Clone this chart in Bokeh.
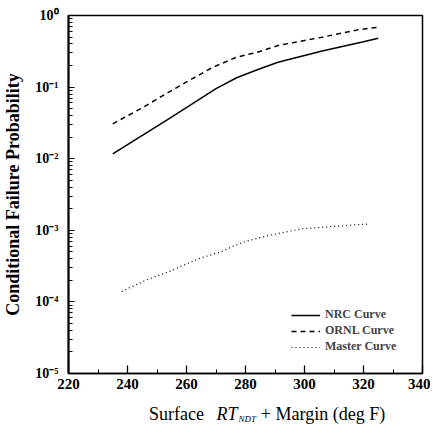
from bokeh.plotting import figure
from bokeh.models import FixedTicker
from bokeh.layouts import column
from bokeh.core.properties import value
from bokeh.embed import file_html
from bokeh.resources import INLINE

# ---- data ----
nrc_x = [235, 254, 270, 277, 284, 291, 306, 320, 325]
nrc_y = [0.0117, 0.036, 0.095, 0.135, 0.175, 0.222, 0.32, 0.43, 0.48]

ornl_x = [235, 245, 254, 262, 269, 277, 284, 291, 306, 318, 325]
ornl_y = [0.0307, 0.0514, 0.085, 0.131, 0.19, 0.262, 0.307, 0.381, 0.498, 0.63, 0.687]

master_x = [238, 246, 255, 264, 271, 279, 288, 299, 311, 322]
master_y = [1.40e-4, 1.99e-4, 2.74e-4, 4.0e-4, 4.9e-4, 6.8e-4, 8.5e-4, 1.05e-3, 1.14e-3, 1.23e-3]

series_names = ["NRC Curve", "ORNL Curve", "Master Curve"]

x_ticks = [220, 240, 260, 280, 300, 320, 340]
x_tick_labels = ["220", "240", "260", "280", "300", "320", "340"]
x_minor = [230, 250, 270, 290, 310, 330]

y_ticks = [1e-5, 1e-4, 1e-3, 1e-2, 1e-1, 1.0]
y_tick_labels = ["10\u207b\u2075", "10\u207b\u2074", "10\u207b\u00b3", "10\u207b\u00b2", "10\u207b\u00b9", "10\u2070"]

x_label_parts = ["Surface", "RT", "NDT", "+ Margin (deg F)"]
y_label = "Conditional Failure Probability"

FONT = "Liberation Serif"

p = figure(frame_width=354, frame_height=358, x_range=(220, 340), y_range=(1e-5, 1.0),
           y_axis_type="log", output_backend="svg", toolbar_location=None,
           min_border_left=66, min_border_right=8, min_border_top=15, min_border_bottom=26)

p.xgrid.visible = False
p.ygrid.visible = False
p.outline_line_color = "black"
p.outline_line_width = 1.5

p.line(nrc_x, nrc_y, line_color="black", line_width=1.5, legend_label=series_names[0])
p.line(ornl_x, ornl_y, line_color="black", line_width=1.5, line_dash="5 4", legend_label=series_names[1])
p.line(master_x, master_y, line_color="black", line_width=1.2, line_dash="1 3", legend_label=series_names[2])

xa = p.xaxis[0]
xa.ticker = FixedTicker(ticks=x_ticks, minor_ticks=x_minor)
xa.major_label_overrides = {t: l for t, l in zip(x_ticks, x_tick_labels)}
xa.major_tick_in = 8
xa.major_tick_out = 0
xa.minor_tick_in = 4
xa.minor_tick_out = 0
xa.axis_line_width = 1.5
xa.major_tick_line_width = 1.3
xa.major_label_standoff = 5
xa.major_label_text_font = FONT
xa.major_label_text_font_style = "bold"
xa.major_label_text_font_size = "15px"
xa.major_label_text_color = "black"

ya = p.yaxis[0]
y_minor = [k * t for t in y_ticks[:-1] for k in range(2, 10)]
ya.ticker = FixedTicker(ticks=y_ticks, minor_ticks=y_minor)
ya.major_label_overrides = {t: l for t, l in zip(y_ticks, y_tick_labels)}
ya.major_tick_in = 6
ya.major_tick_out = 0
ya.minor_tick_in = 4
ya.minor_tick_out = 0
ya.axis_line_width = 2
ya.major_label_standoff = 10
ya.major_label_text_font = FONT
ya.major_label_text_font_style = "bold"
ya.major_label_text_font_size = "14px"
ya.major_label_text_color = "black"
ya.axis_label = y_label
ya.axis_label_text_font = FONT
ya.axis_label_text_font_style = "bold"
ya.axis_label_text_font_size = "18px"
ya.axis_label_text_color = "black"
ya.axis_label_standoff = 9

lg = p.legend[0]
lg.location = (223, 19)
lg.padding = 0
lg.margin = 0
lg.border_line_alpha = 0
lg.background_fill_alpha = 0
lg.label_text_font = FONT
lg.label_text_font_style = "bold"
lg.label_text_font_size = "12px"
lg.glyph_width = 29
lg.glyph_height = 14
lg.label_height = 14
lg.spacing = 1
lg.label_standoff = 5

# x-axis title strip (italic RT with subscript NDT), sharing the x scale
p2 = figure(frame_width=354, frame_height=28, x_range=p.x_range, y_range=(0, 1),
            x_axis_type=None, y_axis_type=None, output_backend="svg", toolbar_location=None,
            min_border_left=66, min_border_right=8, min_border_top=0, min_border_bottom=0,
            outline_line_color=None)
p2.grid.visible = False
xs = [247.3, 270.2, 277.6, 285.2]
ys = [0.5, 0.5, 0.3, 0.5]
styles = ["normal", "italic", "italic", "normal"]
sizes = ["18px", "18px", "9px", "18px"]
for x, y, t, st, sz in zip(xs, ys, x_label_parts, styles, sizes):
    p2.text(x=[x], y=[y], text=[t], text_font=value(FONT), text_font_style=st,
            text_font_size=sz, text_baseline="middle", text_align="left", text_color="black")

layout = column(p, p2)
open("out.html", "w").write(file_html(layout, INLINE))
